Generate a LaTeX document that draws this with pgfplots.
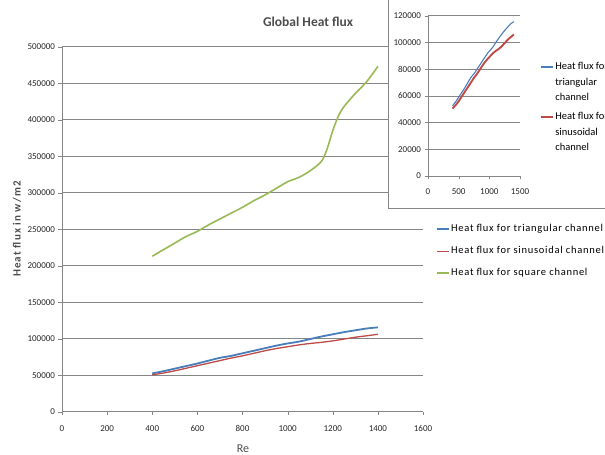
\documentclass[border=0pt]{standalone}
\usepackage{pgfplots}
\pgfplotsset{compat=1.18}
\usepackage{pgfplotstable}
\usepackage{fontspec}
\setmainfont{Carlito}
\definecolor{tri}{RGB}{74,126,187}
\definecolor{sinc}{RGB}{190,75,72}
\definecolor{sq}{RGB}{152,185,84}
\definecolor{gridc}{RGB}{134,134,134}
\definecolor{titc}{RGB}{77,77,77}

\pgfplotstableread{
Re tri sin
400 52500 50500
450 55500 53000
500 59000 56000
550 62500 59500
600 66000 63000
650 70000 66500
700 73800 70000
750 76500 73500
800 80000 76500
850 83500 80000
900 87000 83500
950 90500 86500
1000 93500 89000
1050 96000 91500
1100 99500 93500
1150 103000 95000
1200 106000 97000
1250 109000 99500
1300 111500 102000
1350 114000 104000
1400 115500 106000
}\datatri

\pgfplotstableread{
Re sq
400 213000
450 222000
500 231000
550 240000
600 247000
650 256000
700 264000
750 272000
800 280000
850 289000
900 297000
950 306000
1000 315000
1050 321000
1100 330000
1150 343000
1175 360000
1200 385000
1225 405000
1250 418000
1300 436000
1350 452000
1400 473000
}\datasq

\pgfplotsset{
  xlstyle/.style={
    scale only axis,
    axis x line*=bottom, axis y line*=left,
    axis line style={gridc},
    ymajorgrids, grid style={gridc, line width=0.6pt},
    tick align=outside, major tick length=3.5pt,
    tick style={gridc},
    scaled ticks=false,
    xticklabel style={/pgf/number format/fixed,/pgf/number format/1000 sep={}},
    yticklabel style={/pgf/number format/fixed,/pgf/number format/1000 sep={}},
    /pgf/number format/assume math mode=true,
    ticklabel style={font=\fontsize{9}{10}\selectfont, text=black!85},
    legend cell align=left,
    legend image code/.code={\draw[#1] (0pt,0pt) -- (12pt,0pt);},
  }
}

\begin{document}
\begin{tikzpicture}[x=1pt,y=1pt]
\begin{axis}[xlstyle,
  at={(62pt,43.3pt)}, anchor=south west, width=361pt, height=365pt,
  xmin=0, xmax=1600, ymin=0, ymax=500000,
  xtick={0,200,...,1600}, ytick={0,50000,...,500000},
  xticklabel style={yshift=-7pt},
  legend style={at={(1.037,0.530)}, anchor=north west, draw=none, fill=none,
    inner sep=0pt, outer sep=0pt,
    font=\fontsize{10.5}{12}\selectfont\addfontfeatures{LetterSpace=7},
    nodes={inner xsep=1pt, inner ysep=5.5pt, text height=8pt, text depth=3pt}},
]
\addplot[tri, line width=1.8pt, smooth] table[x=Re,y=tri] {\datatri};
\addlegendentry{Heat flux for triangular channel}
\addplot[sinc, line width=1.3pt, smooth] table[x=Re,y=sin] {\datatri};
\addlegendentry{Heat flux for sinusoidal channel}
\addplot[sq, line width=1.6pt, smooth] table[x=Re,y=sq] {\datasq};
\addlegendentry{Heat flux for square channel}
\end{axis}

\node[font=\fontsize{13.5}{15}\selectfont\bfseries, text=titc] at (308pt,433pt) {Global Heat flux};
\node[font=\fontsize{11}{12}\selectfont\bfseries\addfontfeatures{LetterSpace=10}, text=titc, rotate=90] at (17pt,226pt) {Heat flux in w/m2};
\node[font=\fontsize{12}{13}\selectfont, text=titc] at (243pt,6pt) {Re};

\fill[white] (388pt,247pt) rectangle (610pt,460pt);
\draw[gridc, line width=0.7pt] (388pt,460pt) -- (388pt,247pt) -- (610pt,247pt);

\begin{axis}[xlstyle,
  at={(428pt,279pt)}, anchor=south west, width=92pt, height=160.3pt,
  xmin=0, xmax=1500, ymin=0, ymax=120000,
  xtick={0,500,1000,1500}, ytick={0,20000,...,120000},
  xticklabel style={yshift=-6pt},
  legend style={at={(1.217,0.728)}, anchor=north west, draw=none, fill=none,
    inner sep=0pt, outer sep=0pt,
    font=\fontsize{10.5}{12}\selectfont,
    nodes={inner xsep=1.5pt, inner ysep=2.25pt, text height=8pt, text depth=3pt}},
]
\addplot[tri, line width=1.1pt, smooth] table[x=Re,y=tri] {\datatri};
\addlegendentry{Heat flux for}
\addlegendimage{empty legend}\addlegendentry{triangular}
\addlegendimage{empty legend}\addlegendentry[text depth=6.5pt]{channel}
\addplot[sinc, line width=1.9pt, smooth] table[x=Re,y=sin] {\datatri};
\addlegendentry{Heat flux for}
\addlegendimage{empty legend}\addlegendentry{sinusoidal}
\addlegendimage{empty legend}\addlegendentry{channel}
\end{axis}
\pgfresetboundingbox
\path[use as bounding box] (0pt,0pt) rectangle (605pt,455pt);
\end{tikzpicture}
\end{document}
